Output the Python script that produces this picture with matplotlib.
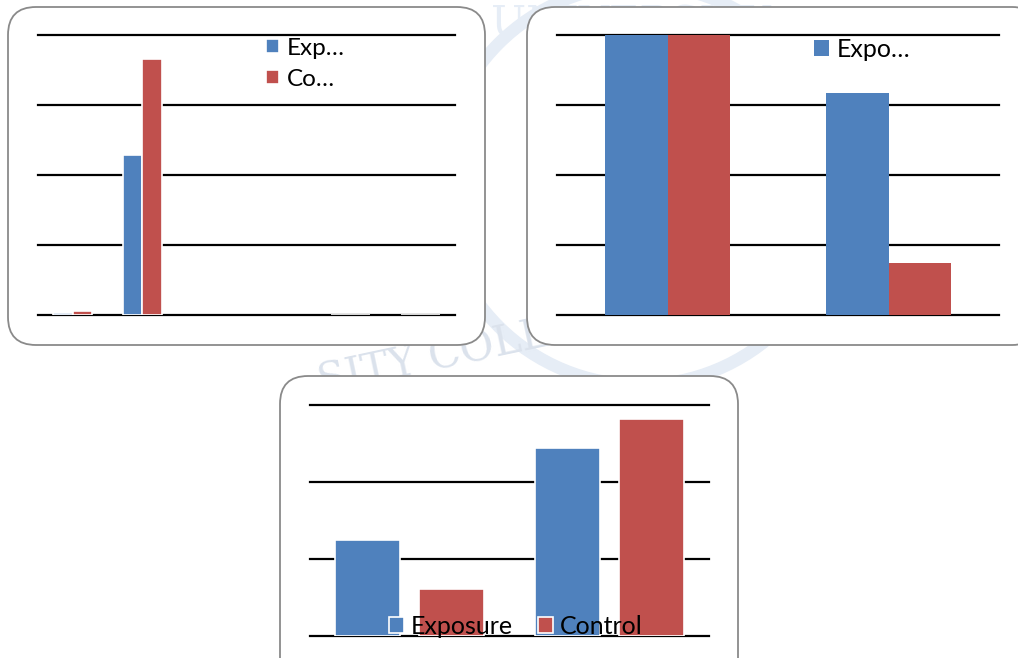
import numpy as np
import matplotlib
matplotlib.use('Agg')
import matplotlib.pyplot as plt
from matplotlib.patches import FancyBboxPatch, Circle
from matplotlib.transforms import IdentityTransform

plt.rcParams['font.family'] = ['Lato', 'DejaVu Sans']

BLUE = '#4f81bd'
RED = '#c0504d'

# top-left chart: six groups, only the first two have visible bars
p1_groups = np.arange(6)
p1_exposure = [0.03, 2.29, np.nan, np.nan, 0.0, 0.0]
p1_control = [0.06, 3.66, np.nan, np.nan, 0.0, 0.0]
p1_labels = ['Exp…', 'Co…']

# top-right chart
p2_groups = np.arange(2)
p2_exposure = [4.0, 3.17]
p2_control = [4.0, 0.75]
p2_labels = ['Expo…']

# bottom chart
p3_groups = np.arange(2)
p3_exposure = [1.25, 2.44]
p3_control = [0.61, 2.82]
p3_labels = ['Exposure', 'Control']

W, H = 1018, 658
fig = plt.figure(figsize=(W / 100, H / 100), dpi=100)
fig.patch.set_facecolor('white')


def px_axes(x0, y0, x1, y1):
    # pixel box (top-left origin) -> figure fraction axes
    ax = fig.add_axes([x0 / W, 1 - y1 / H, (x1 - x0) / W, (y1 - y0) / H])
    ax.set_zorder(2)
    return ax


def rounded_box(x0, y0, x1, y1, r=28):
    p = FancyBboxPatch((x0 + r, H - y1 + r), x1 - x0 - 2 * r, y1 - y0 - 2 * r,
                       boxstyle=f'round,pad={r}', transform=IdentityTransform(),
                       facecolor='white', edgecolor='#8a8a8a', linewidth=1.3,
                       zorder=1)
    fig.add_artist(p)


def style_axes(ax, ymax, xlim):
    ax.set_facecolor('none')
    ax.set_ylim(0, ymax)
    ax.set_xlim(*xlim)
    ax.set_yticks(np.arange(ymax + 1))
    ax.set_xticks([])
    ax.yaxis.grid(True, color='black', linewidth=1.6)
    for gl in ax.get_ygridlines():
        gl.set_clip_on(False)
    ax.set_axisbelow(True)
    ax.tick_params(length=0, labelleft=False, labelbottom=False)
    for s in ax.spines.values():
        s.set_visible(False)


# faint watermark behind the charts
wm = '#e6edf6'
fig.add_artist(Circle((640, H - 185), 200, transform=IdentityTransform(),
                      fill=False, edgecolor=wm, linewidth=9, zorder=0))
fig.text(0.62, 0.995, 'UNIVERSITY', fontsize=30, family='DejaVu Serif',
         color=wm, ha='center', va='top', zorder=0)
fig.text(0.44, 0.46, 'SITY COLLE', fontsize=30, family='DejaVu Serif',
         color='#dbe2ec', ha='center', va='center', rotation=12, zorder=0)

rounded_box(8, 7, 485, 345)
rounded_box(527, 7, 1040, 345)
rounded_box(280, 376, 738, 690)

# --- top-left
ax1 = px_axes(38, 35, 455, 315)
style_axes(ax1, 4, (-0.5, 5.5))
w1 = 0.28
b1 = ax1.bar(p1_groups - w1 / 2, p1_exposure, w1, color=BLUE, edgecolor='white',
             linewidth=1.2, zorder=3)
b2 = ax1.bar(p1_groups + w1 / 2, p1_control, w1, color=RED, edgecolor='white',
             linewidth=1.2, zorder=3)
ax1.legend([b1, b2], p1_labels, loc='upper left', bbox_to_anchor=(266 / W, 1 - 38 / H),
           bbox_transform=fig.transFigure, frameon=False, fontsize=17.5,
           handlelength=0.52, handleheight=0.52, handletextpad=0.35,
           labelspacing=0.4, borderpad=0, borderaxespad=0)

# --- top-right
ax2 = px_axes(557, 35, 999, 315)
style_axes(ax2, 4, (-0.5, 1.5))
w2 = 0.285
c1 = ax2.bar(p2_groups - w2 / 2, p2_exposure, w2, color=BLUE, zorder=3)
ax2.bar(p2_groups + w2 / 2, p2_control, w2, color=RED, zorder=3)
ax2.legend([c1], p2_labels, loc='upper left', bbox_to_anchor=(814 / W, 1 - 38 / H),
           bbox_transform=fig.transFigure, frameon=False, fontsize=18,
           handlelength=0.6, handleheight=0.6, handletextpad=0.3,
           borderpad=0, borderaxespad=0)

# --- bottom
ax3 = px_axes(310, 405, 709, 636)
style_axes(ax3, 3, (-0.5, 1.5))
w3 = 0.326
d1 = ax3.bar(p3_groups - 0.21, p3_exposure, w3, color=BLUE, edgecolor='white',
             linewidth=1.2, zorder=3)
d2 = ax3.bar(p3_groups + 0.21, p3_control, w3, color=RED, edgecolor='white',
             linewidth=1.2, zorder=3)
leg3 = ax3.legend([d1, d2], p3_labels, loc='lower center',
                  bbox_to_anchor=(516 / W, 1 - 638 / H),
                  bbox_transform=fig.transFigure, frameon=False, fontsize=18,
                  ncol=2, handlelength=0.58, handleheight=0.58, handletextpad=0.3,
                  columnspacing=1.0, borderpad=0, borderaxespad=0)
leg3.set_zorder(5)

fig.savefig('out.png', dpi=100)
